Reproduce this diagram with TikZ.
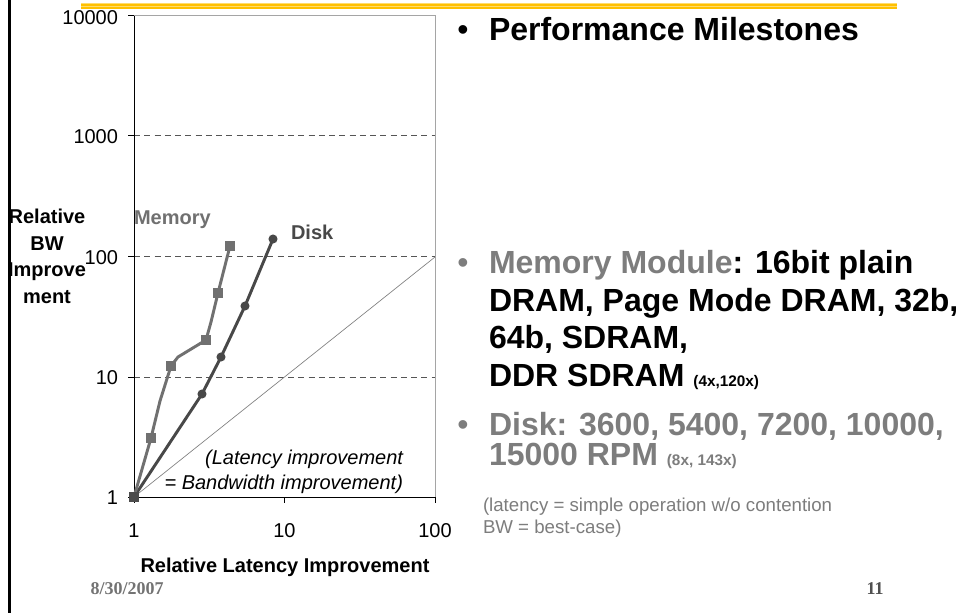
\documentclass[tikz,border=0pt]{standalone}
\usepackage{fontspec}
\setmainfont{Liberation Sans}
\newfontfamily\footfont{Liberation Serif}
\definecolor{memcol}{RGB}{112,112,112}
\definecolor{diskcol}{RGB}{72,72,72}
\definecolor{gridcol}{RGB}{85,85,85}
\definecolor{framegray}{RGB}{165,165,165}
\definecolor{orangec}{RGB}{255,192,0}
\definecolor{orlight}{RGB}{255,220,110}
\definecolor{textgray}{RGB}{125,125,125}
\definecolor{footgray}{RGB}{115,115,115}
\definecolor{numgray}{RGB}{80,80,80}
\begin{document}
\begin{tikzpicture}[x=0.75pt,y=-0.75pt,
  txt/.style={inner sep=0pt, outer sep=0pt},
  ticklab/.style={txt, font=\fontsize{15}{18}\selectfont},
  gridline/.style={draw=gridcol, line width=0.75pt, dash pattern=on 4.5pt off 3.2pt},
  memline/.style={draw=memcol, line width=2.2pt, line join=round, line cap=round},
  diskline/.style={draw=diskcol, line width=2.2pt, line join=round, line cap=round},
  memmark/.style={fill=memcol, rectangle, minimum size=8.2pt, inner sep=0pt},
  diskmark/.style={fill=diskcol, circle, minimum size=6.8pt, inner sep=0pt},
  big/.style={txt, font=\fontsize{24}{28}\selectfont\bfseries, anchor=base west},
  bul/.style={txt, font=\fontsize{24}{28}\selectfont, anchor=base},
  note/.style={txt, font=\fontsize{14}{16}\selectfont, text=textgray, anchor=base west},
  foot/.style={txt, font=\fontsize{13.5}{16}\footfont\bfseries, anchor=base},
]
\useasboundingbox (0,0) rectangle (961,613);
\fill[white] (0,0) rectangle (961,613);

% slide decorations
\draw[line width=1.6pt] (9.5,0) -- (9.5,613);
\fill[orlight] (81,3.5) rectangle (897,9.5);
\draw[orangec, line width=1.5pt] (81,5) -- (897,5);
\draw[orangec, line width=1.5pt] (81,8) -- (897,8);

% plot frame
\coordinate (O) at (134,497);
\coordinate (TL) at (134,16);
\coordinate (TR) at (435,16);
\coordinate (BR) at (435,497);
\coordinate (D100) at (435,257);

\draw[gridline] (134,136) -- (435,136);
\draw[gridline] (134,257) -- (435,257);
\draw[gridline] (134,377) -- (435,377);
\draw[framegray, line width=0.75pt] (TL) -- (TR) -- (BR);
\draw[black, line width=0.75pt] (TL) -- (O) -- (BR);
\foreach \yy in {16,136,257,377,497} \draw[black, line width=0.75pt] (128,\yy) -- (134,\yy);
\foreach \xx in {134,284.5,435} \draw[black, line width=0.75pt] (\xx,497) -- (\xx,503);

% y = x line
\draw[gray, line width=0.5pt] (O) -- (D100);

% tick labels
\node[ticklab, anchor=east] (y4) at (118,18) {10000};
\node[ticklab, anchor=east] (y3) at (118,137) {1000};
\node[ticklab, anchor=east] (y2) at (118,258) {100};
\node[ticklab, anchor=east] (y1) at (118,378) {10};
\node[ticklab, anchor=east] (y0) at (118,498) {1};
\node[ticklab] (x0) at (134,531) {1};
\node[ticklab] (x1) at (284.5,531) {10};
\node[ticklab] (x2) at (435,531) {100};

% axis titles
\node[txt, font=\fontsize{15}{20}\selectfont\bfseries, anchor=base] (xt) at (285,572) {Relative Latency Improvement};
\node[txt, font=\fontsize{15}{20}\selectfont\bfseries, align=center, anchor=north] (yt) at (47,209) {Relative\\BW\\Improve\\ment};

% data
\coordinate (m0) at (134,497);
\coordinate (m1) at (151,438);
\coordinate (mb) at (160,401);
\coordinate (m2) at (171,366);
\coordinate (mc) at (178,357);
\coordinate (m3) at (206,340);
\coordinate (md) at (211,322);
\coordinate (m4) at (218,293);
\coordinate (m5) at (230,246);
\coordinate (d0) at (134,497);
\coordinate (d1) at (202,394);
\coordinate (d2) at (221,357);
\coordinate (d3) at (245,306);
\coordinate (d4) at (273,239);

\draw[diskline] (d0) -- (d1) -- (d2) -- (d3) -- (d4);
\draw[memline] (m0) -- (m1) -- (mb) -- (m2) -- (mc) -- (m3) -- (md) -- (m4) -- (m5);
\foreach \p in {d1,d2,d3,d4} \node[diskmark] (k\p) at (\p) {};
\foreach \p in {m1,m2,m3,m4,m5} \node[memmark] (k\p) at (\p) {};
\node[memmark, fill=diskcol!90!memcol] (km0) at (m0) {};

% series labels
\node[txt, font=\fontsize{15}{18}\selectfont\bfseries, text=memcol, anchor=base west] (lmem) at (134,225) {Memory};
\node[txt, font=\fontsize{15}{18}\selectfont\bfseries, text=diskcol, anchor=base west] (ldisk) at (291,240) {Disk};
\node[txt, font=\fontsize{15}{18.8}\selectfont\itshape, align=right, anchor=north east] (lat) at (403,450) {(Latency improvement\\= Bandwidth improvement)};

% right text
\node[bul] (b1) at (463,41) {•};
\node[big] (t1) at (489,41) {Performance Milestones};

\node[bul, text=textgray] (b2) at (463,273) {•};
\node[big] (mm1) at (489,273) {\textcolor{textgray}{Memory Module}: 16bit plain};
\node[big] (mm2) at (489,311) {DRAM, Page Mode DRAM, 32b,};
\node[big] (mm3) at (489,348) {64b, SDRAM,};
\node[big] (mm4) at (489,386) {DDR SDRAM {\fontsize{11.5}{13}\selectfont(4x,120x)}};

\node[bul, text=textgray] (b3) at (463,435) {•};
\node[big, text=textgray] (dk1) at (489,435) {Disk: 3600, 5400, 7200, 10000,};
\node[big, text=textgray] (dk2) at (489,465) {15000 RPM {\fontsize{11.5}{13}\selectfont(8x, 143x)}};

\node[note] (n1) at (483,511) {(latency = simple operation w/o contention};
\node[note] (n2) at (483,533) {BW = best-case)};

% footer
\node[foot, text=footgray] (date) at (127,594) {8/30/2007};
\node[foot, text=numgray] (pg) at (875,594) {11};
\end{tikzpicture}
\end{document}
